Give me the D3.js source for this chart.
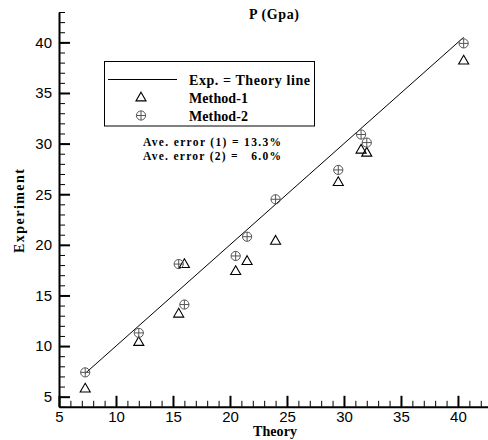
<!DOCTYPE html>
<html>
<head>
<meta charset="utf-8">
<script src="https://cdn.jsdelivr.net/npm/d3@7"></script>
<style>
  body { margin: 0; background: #fff; }
  svg { display: block; }
  .tick text { font-family: "Liberation Sans", Arial, sans-serif; font-size: 15px; fill: #000; }
  .serif { font-family: "Liberation Serif", "Times New Roman", serif; font-weight: bold; fill: #000; }
</style>
</head>
<body>
<div id="chart"></div>
<script>
// values
const theoryLine = [7.3, 40.5];

const method1X = [7.3, 12, 15.5, 16, 20.5, 21.5, 24, 29.5, 31.5, 32, 40.5];
const method1Y = [5.8, 10.4, 13.2, 18.1, 17.4, 18.4, 20.4, 26.2, 29.4, 29.1, 38.2];

const method2X = [7.3, 12, 15.5, 16, 20.5, 21.5, 24, 29.5, 31.5, 32, 40.5];
const method2Y = [7.4, 11.3, 18.1, 14.1, 18.9, 20.8, 24.5, 27.4, 30.9, 30.1, 39.9];

const xTicks = [5, 10, 15, 20, 25, 30, 35, 40];
const yTicks = [5, 10, 15, 20, 25, 30, 35, 40];

const legendLabels = ["Exp. = Theory line", "Method-1", "Method-2"];
const errorLines = ["Ave. error (1) = 13.3%", "Ave. error (2) =   6.0%"];

const W = 488, H = 440;

const svg = d3.select("#chart").append("svg")
    .attr("width", W)
    .attr("height", H);

const x = d3.scaleLinear().domain([5, 42.6]).range([59, 487.6]);
const y = d3.scaleLinear().domain([4, 43]).range([406.8, 12]);

// minor ticks
svg.append("g")
    .attr("transform", `translate(0,${y(4)})`)
    .call(d3.axisBottom(x).tickValues(d3.range(5, 43, 1)).tickSize(-6).tickFormat(""))
    .call(g => g.select(".domain").remove());
svg.append("g")
    .attr("transform", `translate(${x(5)},0)`)
    .call(d3.axisLeft(y).tickValues(d3.range(4, 44, 1)).tickSize(-6).tickFormat(""))
    .call(g => g.select(".domain").remove());

// major ticks + axis lines
const xAxis = svg.append("g")
    .attr("transform", `translate(0,${y(4)})`)
    .call(d3.axisBottom(x).tickValues(xTicks).tickSizeInner(-11).tickSizeOuter(0).tickPadding(5));
xAxis.select(".domain").attr("stroke-width", 2);
xAxis.selectAll(".tick line").attr("stroke-width", 2);

const yAxis = svg.append("g")
    .attr("transform", `translate(${x(5)},0)`)
    .call(d3.axisLeft(y).tickValues(yTicks).tickSizeInner(-11).tickSizeOuter(0).tickPadding(7));
yAxis.select(".domain").attr("stroke-width", 2);
yAxis.selectAll(".tick line").attr("stroke-width", 2);

// axis titles
svg.append("text")
    .attr("class", "serif")
    .attr("x", 275)
    .attr("y", 436)
    .attr("text-anchor", "middle")
    .attr("font-size", 14)
    .attr("textLength", 44)
    .text("Theory");

svg.append("text")
    .attr("class", "serif")
    .attr("transform", "translate(24,211) rotate(-90)")
    .attr("text-anchor", "middle")
    .attr("font-size", 14)
    .attr("textLength", 84)
    .text("Experiment");

svg.append("text")
    .attr("class", "serif")
    .attr("x", 274)
    .attr("y", 19)
    .attr("text-anchor", "middle")
    .attr("font-size", 14)
    .attr("textLength", 50)
    .text("P (Gpa)");

// Exp = Theory line
svg.append("line")
    .attr("x1", x(theoryLine[0])).attr("y1", y(theoryLine[0]))
    .attr("x2", x(theoryLine[1])).attr("y2", y(theoryLine[1]))
    .attr("stroke", "#000")
    .attr("stroke-width", 1);

const tri = d3.symbol(d3.symbolTriangle).size(44);

function drawTriangle(g, cx, cy) {
    g.append("path")
        .attr("d", tri())
        .attr("transform", `translate(${cx},${cy + 0.5})`)
        .attr("fill", "none")
        .attr("stroke", "#000")
        .attr("stroke-width", 1.1);
}

function drawCirclePlus(g, cx, cy) {
    const r = 4.6;
    g.append("circle")
        .attr("cx", cx).attr("cy", cy).attr("r", r)
        .attr("fill", "none")
        .attr("stroke", "#555")
        .attr("stroke-width", 1);
    g.append("path")
        .attr("d", `M${cx - r},${cy}H${cx + r}M${cx},${cy - r}V${cy + r}`)
        .attr("stroke", "#555")
        .attr("stroke-width", 1);
}

const marks = svg.append("g");
method1X.forEach((v, i) => drawTriangle(marks, x(v), y(method1Y[i])));
method2X.forEach((v, i) => drawCirclePlus(marks, x(v), y(method2Y[i])));

// legend
const legend = svg.append("g");
legend.append("rect")
    .attr("x", 104.5).attr("y", 61.5)
    .attr("width", 210).attr("height", 64.5)
    .attr("fill", "#fff")
    .attr("stroke", "#000")
    .attr("stroke-width", 1);

const rowY = [79.5, 97.5, 115.5];
const labelLen = [121, 59, 59];
legend.append("line")
    .attr("x1", 108).attr("x2", 177)
    .attr("y1", rowY[0]).attr("y2", rowY[0])
    .attr("stroke", "#000");
drawTriangle(legend, 141, rowY[1]);
drawCirclePlus(legend, 141, rowY[2]);

legend.selectAll("text.lab")
    .data(legendLabels)
    .join("text")
    .attr("class", "serif lab")
    .attr("x", 189)
    .attr("y", (d, i) => rowY[i] + 5)
    .attr("font-size", 14)
    .attr("textLength", (d, i) => labelLen[i])
    .text(d => d);

svg.selectAll("text.err")
    .data(errorLines)
    .join("text")
    .attr("class", "serif err")
    .attr("x", 143)
    .attr("y", (d, i) => 146 + i * 13.5)
    .attr("font-size", 11.5)
    .attr("textLength", 138)
    .style("white-space", "pre")
    .attr("xml:space", "preserve")
    .text(d => d);
</script>
</body>
</html>
